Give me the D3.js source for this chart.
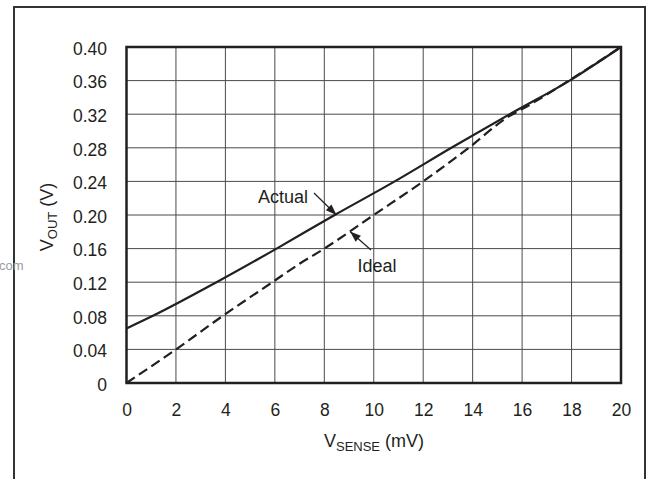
<!DOCTYPE html>
<html><head><meta charset="utf-8">
<script src="https://cdn.jsdelivr.net/npm/d3@7/dist/d3.min.js"></script>
<style>body{margin:0;background:#fff}svg{display:block}text{font-family:"Liberation Sans",Arial,sans-serif;fill:#231f20}</style>
</head><body><svg id="c" width="649" height="479"></svg>
<script>
const xTicks = [0,2,4,6,8,10,12,14,16,18,20];
const yTicks = [0,0.04,0.08,0.12,0.16,0.20,0.24,0.28,0.32,0.36,0.40];
const actualX = [0,1.07,3.64,6.07,8.42,10.85,13.14,15.5,17.92,20];
const actualY = [0.065,0.08,0.12,0.16,0.20,0.24,0.28,0.32,0.36,0.40];
const idealX = [0,2,3.9,6,7,8,10,12,13.8,15.5,16,18,20];
const idealY = [0,0.04,0.08,0.122,0.142,0.16,0.20,0.24,0.279,0.318,0.326,0.362,0.40];

const svg = d3.select("#c");
const L=126.5,R=621,T=47,B=383;
const x = d3.scaleLinear().domain([0,20]).range([L,R]);
const y = d3.scaleLinear().domain([0,0.40]).range([B,T]);
const FONT = "Liberation Sans, Arial, sans-serif";

// outer frame
svg.append("rect").attr("x",14).attr("y",7).attr("width",631).attr("height",490)
  .attr("fill","none").attr("stroke","#333").attr("stroke-width",2);

// watermark fragment
svg.append("text").attr("x",-1).attr("y",270).attr("font-size",13).style("fill","#9a9a9a").text("com");

// grid
const g = svg.append("g");
g.selectAll(".vx").data(xTicks).enter().append("line")
  .attr("x1",d=>x(d)).attr("x2",d=>x(d)).attr("y1",T).attr("y2",B)
  .attr("stroke","#4a4a4a").attr("stroke-width",1);
g.selectAll(".hy").data(yTicks).enter().append("line")
  .attr("x1",L).attr("x2",R).attr("y1",d=>y(d)).attr("y2",d=>y(d))
  .attr("stroke","#4a4a4a").attr("stroke-width",1);

// axes labels via d3 axes
const xa = svg.append("g").attr("transform",`translate(0,${B})`)
  .call(d3.axisBottom(x).tickValues(xTicks).tickSize(0).tickPadding(21).tickFormat(d3.format("d")));
xa.select(".domain").remove();
xa.selectAll("text").attr("font-size",17.5).style("fill","#231f20").style("font-family",FONT);
const ya = svg.append("g").attr("transform",`translate(${L},0)`)
  .call(d3.axisLeft(y).tickValues(yTicks).tickSize(0).tickPadding(19.5).tickFormat(d=>d===0?"0":d3.format(".2f")(d)));
ya.select(".domain").remove();
ya.selectAll("text").attr("font-size",17.5).attr("dy","0.42em").style("fill","#231f20").style("font-family",FONT);

// plot frame
svg.append("rect").attr("x",L).attr("y",T).attr("width",R-L).attr("height",B-T)
  .attr("fill","none").attr("stroke","#231f20").attr("stroke-width",2.5);

const line = d3.line().x(d=>x(d[0])).y(d=>y(d[1])).curve(d3.curveMonotoneX);
svg.append("path").datum(idealX.map((v,i)=>[v,idealY[i]])).attr("d",line)
  .attr("fill","none").attr("stroke","#231f20").attr("stroke-width",2.2).attr("stroke-dasharray","10,5");
svg.append("path").datum(actualX.map((v,i)=>[v,actualY[i]])).attr("d",line)
  .attr("fill","none").attr("stroke","#231f20").attr("stroke-width",2.2);

// annotations
function arrow(x1,y1,x2,y2){
  svg.append("line").attr("x1",x1).attr("y1",y1).attr("x2",x2).attr("y2",y2)
    .attr("stroke","#231f20").attr("stroke-width",1.2);
  const a=Math.atan2(y2-y1,x2-x1), len=11, w=4;
  const bx=x2-len*Math.cos(a), by=y2-len*Math.sin(a);
  const px=-Math.sin(a)*w, py=Math.cos(a)*w;
  svg.append("path").attr("d",`M${x2},${y2}L${bx+px},${by+py}L${bx-px},${by-py}Z`).attr("fill","#231f20");
}
svg.append("text").attr("x",258).attr("y",203).attr("font-size",18).text("Actual");
arrow(314,193,336.5,215);
svg.append("text").attr("x",357.5).attr("y",272).attr("font-size",18).text("Ideal");
arrow(371,250,350,231.5);

// axis titles
const xt = svg.append("text").attr("x",374).attr("y",447).attr("text-anchor","middle").attr("font-size",18);
xt.append("tspan").text("V");
xt.append("tspan").attr("font-size",13).attr("dy",4).text("SENSE");
xt.append("tspan").attr("dy",-4).text(" (mV)");
const yt = svg.append("text").attr("transform","translate(52.5,217) rotate(-90)").attr("text-anchor","middle").attr("font-size",18);
yt.append("tspan").text("V");
yt.append("tspan").attr("font-size",13).attr("dy",4).text("OUT");
yt.append("tspan").attr("dy",-4).text(" (V)");
</script></body></html>
